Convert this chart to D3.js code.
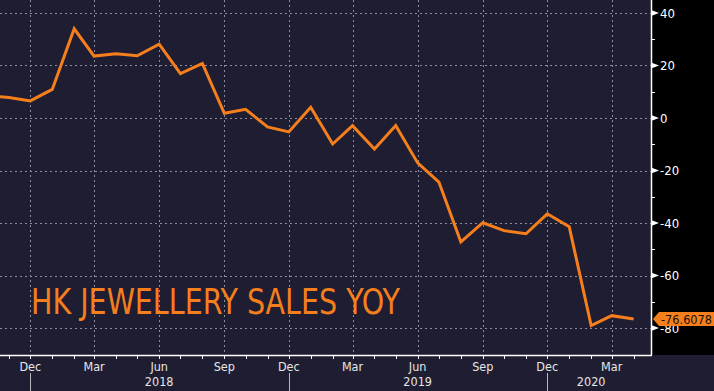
<!DOCTYPE html>
<html><head><meta charset="utf-8">
<script src="https://cdn.jsdelivr.net/npm/d3@7"></script>
<style>
html,body{margin:0;padding:0;background:#1f1d31;}
svg{display:block;}
</style></head>
<body>
<svg id="c" width="714" height="391"></svg>
<script>
const months = ["2017-10","2017-11","2017-12","2018-01","2018-02","2018-03","2018-04","2018-05","2018-06","2018-07","2018-08","2018-09","2018-10","2018-11","2018-12","2019-01","2019-02","2019-03","2019-04","2019-05","2019-06","2019-07","2019-08","2019-09","2019-10","2019-11","2019-12","2020-01","2020-02","2020-03","2020-04"];
const values = [8.6,7.8,6.5,10.9,34.0,23.6,24.5,23.7,28.1,16.9,20.8,1.8,3.3,-3.4,-5.3,4.1,-9.9,-2.9,-11.8,-2.9,-17.1,-24.4,-47.2,-39.9,-42.9,-44.1,-36.5,-41.4,-79.1,-75.3,-76.6078];
const yTicks = [40,20,0,-20,-40,-60,-80];
const yMinor = [30,10,-10,-30,-50,-70];
const monthLabels = ["Dec","Mar","Jun","Sep"];
const yearLabels = ["2018","2019","2020"];
const lastLabel = "-76.6078";
const title = "HK JEWELLERY SALES YOY";

const W = 714, H = 391;
const plotR = 651, plotB = 355;
const parse = d3.utcParse("%Y-%m");
const data = months.map((m,i)=>({d:parse(m), v:values[i]}));

const x = d3.scaleUtc().domain([parse("2017-12"), parse("2020-03")]).range([30.3, 611.7]);
const y = d3.scaleLinear().domain([-80, 40]).range([328, 13]);

const svg = d3.select("#c");
const orange = "#f57f1d";
const grid = "#8d8c9c";
const font = "'DejaVu Sans Condensed','DejaVu Sans',sans-serif";

svg.append("rect").attr("x",0).attr("y",0).attr("width",W).attr("height",H).attr("fill","#1f1d31");
svg.append("rect").attr("x",plotR).attr("y",0).attr("width",W-plotR).attr("height",plotB).attr("fill","#000");

svg.append("defs").append("clipPath").attr("id","clip")
  .append("rect").attr("x",0).attr("y",0).attr("width",plotR).attr("height",plotB);

const allMonths = d3.utcMonth.range(parse("2017-11"), parse("2020-05"));
const quarterTicks = allMonths.filter(d=>monthLabels.includes(d3.utcFormat("%b")(d)));
const g = svg.append("g");
g.selectAll("line.vg").data(quarterTicks).join("line")
  .attr("x1",d=>Math.round(x(d))+0.5).attr("x2",d=>Math.round(x(d))+0.5).attr("y1",0).attr("y2",plotB)
  .attr("stroke",grid).attr("stroke-width",1).attr("stroke-dasharray","2,3");
g.selectAll("line.hg").data(yTicks).join("line")
  .attr("x1",0).attr("x2",plotR).attr("y1",d=>Math.round(y(d))+0.5).attr("y2",d=>Math.round(y(d))+0.5)
  .attr("stroke",grid).attr("stroke-width",1).attr("stroke-dasharray","2,3");

svg.append("text").attr("x",31).attr("y",314).text(title)
  .attr("fill",orange).attr("font-family",font)
  .attr("font-size",35).attr("textLength",369).attr("lengthAdjust","spacingAndGlyphs");

const line = d3.line().x(d=>x(d.d)).y(d=>y(d.v));
svg.append("path").datum(data).attr("clip-path","url(#clip)")
  .attr("d",line).attr("fill","none").attr("stroke",orange).attr("stroke-width",3).attr("stroke-linejoin","miter");

const ax = svg.append("g").attr("transform",`translate(${plotR},0)`);
ax.append("line").attr("x1",0.5).attr("x2",0.5).attr("y1",0).attr("y2",plotB).attr("stroke","#fff").attr("stroke-width",1.5);
ax.selectAll("line.mn").data(yMinor).join("line")
  .attr("x1",0).attr("x2",4).attr("y1",d=>Math.round(y(d))+0.5).attr("y2",d=>Math.round(y(d))+0.5)
  .attr("stroke","#fff").attr("stroke-width",1);
ax.selectAll("path.tri").data(yTicks).join("path")
  .attr("d",d=>{const yy=y(d); return `M0,${yy-3}L8,${yy}L0,${yy+3}Z`;}).attr("fill","#fff");
ax.selectAll("text.yl").data(yTicks.filter(d=>d!==-80)).join("text")
  .attr("x",9).attr("y",d=>y(d)).attr("dy","0.36em").text(d=>d)
  .attr("fill","#fff").attr("font-family",font).attr("font-size",13);
// -80 label partly hidden behind the value tag, as in the reference
ax.append("text").attr("x",9).attr("y",y(-80)).attr("dy","0.36em").text(-80)
  .attr("fill","#fff").attr("font-family",font).attr("font-size",13);

const ly = y(values[values.length-1]);
const tag = svg.append("g");
tag.append("path").attr("d",`M${plotR+2},${ly}L${plotR+8},${ly-7}L${W},${ly-7}L${W},${ly+7}L${plotR+8},${ly+7}Z`).attr("fill",orange);
tag.append("text").attr("x",plotR+10).attr("y",ly).attr("dy","0.36em").text(lastLabel)
  .attr("fill","#1a1208").attr("font-family",font).attr("font-size",13)
  .attr("textLength",51).attr("lengthAdjust","spacingAndGlyphs");

const bx = svg.append("g");
bx.append("line").attr("x1",0).attr("x2",plotR+1).attr("y1",plotB+0.5).attr("y2",plotB+0.5).attr("stroke","#fff").attr("stroke-width",1.5);
bx.selectAll("line.mt").data(allMonths).join("line")
  .attr("x1",d=>Math.round(x(d))+0.5).attr("x2",d=>Math.round(x(d))+0.5).attr("y1",plotB).attr("y2",plotB+4)
  .attr("stroke","#fff").attr("stroke-width",1);
const fmt = d3.utcFormat("%b");
bx.selectAll("text.ml").data(quarterTicks).join("text")
  .attr("x",d=>x(d)).attr("y",366).attr("dy","0.36em").attr("text-anchor","middle").text(d=>fmt(d))
  .attr("fill","#e6e6e6").attr("font-family",font).attr("font-size",12.5);
const decs = quarterTicks.filter(d=>d.getUTCMonth()===11);
bx.selectAll("line.ys").data(decs).join("line")
  .attr("x1",d=>Math.round(x(d))+0.5).attr("x2",d=>Math.round(x(d))+0.5).attr("y1",373).attr("y2",391)
  .attr("stroke","#b8b8c0").attr("stroke-width",1);
const yearPos = [parse("2018-06"), parse("2019-06"), parse("2020-02")];
bx.selectAll("text.yr").data(yearLabels).join("text")
  .attr("x",(d,i)=>x(yearPos[i])).attr("y",381.5).attr("dy","0.36em").attr("text-anchor","middle").text(d=>d)
  .attr("fill","#e6e6e6").attr("font-family",font).attr("font-size",12.5);
</script>
</body></html>
